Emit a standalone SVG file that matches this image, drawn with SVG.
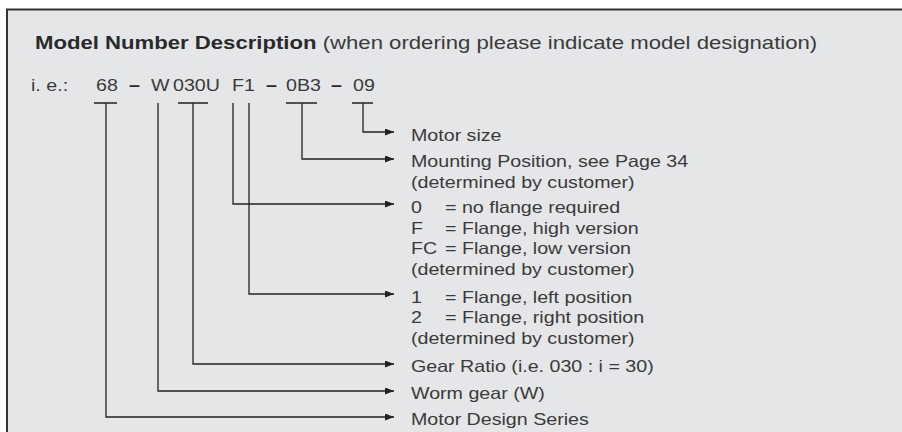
<svg xmlns="http://www.w3.org/2000/svg" width="902" height="432" viewBox="0 0 902 432">
<style>
.t{font-family:"Liberation Sans",Arial,Helvetica,sans-serif;font-size:16.5px;fill:#3a3a3a}
.h{font-family:"Liberation Sans",Arial,Helvetica,sans-serif;font-size:18.6px;fill:#3a3a3a}
.b{font-weight:bold;fill:#2a2a2a}
.d{font-weight:bold;fill:#2a2a2a}
.ln{fill:none;stroke:#222;stroke-width:1.3}
</style>
<defs>
<marker id="ah" markerUnits="userSpaceOnUse" markerWidth="10" markerHeight="8" refX="9" refY="3.5" orient="auto">
<path d="M0,0 L9,3.5 L0,7 z" fill="#222"/>
</marker>
</defs>
<rect x="0" y="0" width="902" height="432" fill="#fff"/>
<path d="M7,440 V9.5 H910" fill="#e5e6e8" stroke="none"/>
<rect x="7" y="9.5" width="900" height="430" fill="#e5e6e8"/>
<path d="M7,440 V9.5 H910" fill="none" stroke="#333" stroke-width="2"/>
<g id="title">
<text class="h" transform="translate(35,49) scale(1.19,1)"><tspan class="b">Model Number Description</tspan> (when ordering please indicate model designation)</text>
</g>
<g id="code">
<text class="t" transform="translate(31,91) scale(1.19,1)">i. e.:</text>
<text class="t" transform="translate(96,91) scale(1.19,1)">68</text>
<text class="t d" transform="translate(129,91) scale(1.19,1)">–</text>
<text class="t" transform="translate(151,91) scale(1.19,1)">W</text>
<text class="t" transform="translate(173,91) scale(1.19,1)">030U</text>
<text class="t" transform="translate(232,91) scale(1.19,1)">F1</text>
<text class="t d" transform="translate(266,91) scale(1.19,1)">–</text>
<text class="t" transform="translate(286,91) scale(1.19,1)">0B3</text>
<text class="t d" transform="translate(331,91) scale(1.19,1)">–</text>
<text class="t" transform="translate(353,91) scale(1.19,1)">09</text>
</g>
<g id="connectors">
<path class="ln" d="M352,103 H373 M363,103 V132 H394" marker-end="url(#ah)"/>
<path class="ln" d="M286,103 H317 M302,103 V159 H394" marker-end="url(#ah)"/>
<path class="ln" d="M233,103 V204 H394" marker-end="url(#ah)"/>
<path class="ln" d="M249,103 V294 H394" marker-end="url(#ah)"/>
<path class="ln" d="M178,103 H208 M193,103 V364 H394" marker-end="url(#ah)"/>
<path class="ln" d="M158,103 V391 H394" marker-end="url(#ah)"/>
<path class="ln" d="M94,103 H117 M106,103 V417 H394" marker-end="url(#ah)"/>
</g>
<g id="motor-size">
<text class="t" transform="translate(411,141) scale(1.19,1)">Motor size</text>
</g>
<g id="mounting">
<text class="t" transform="translate(411,167) scale(1.19,1)"><tspan x="0">Mounting Position, see Page 34</tspan><tspan x="0" dy="20.8">(determined by customer)</tspan></text>
</g>
<g id="flange">
<text class="t" transform="translate(411,213) scale(1.19,1)"><tspan x="0">0</tspan><tspan x="28.6">= no flange required</tspan><tspan x="0" dy="20.7">F</tspan><tspan x="28.6">= Flange, high version</tspan><tspan x="0" dy="20.7">FC</tspan><tspan x="28.6">= Flange, low version</tspan><tspan x="0" dy="20.7">(determined by customer)</tspan></text>
</g>
<g id="flange-position">
<text class="t" transform="translate(411,303) scale(1.19,1)"><tspan x="0">1</tspan><tspan x="28.6">= Flange, left position</tspan><tspan x="0" dy="20.5">2</tspan><tspan x="28.6">= Flange, right position</tspan><tspan x="0" dy="20.5">(determined by customer)</tspan></text>
</g>
<g id="gear-ratio">
<text class="t" transform="translate(411,372) scale(1.19,1)">Gear Ratio (i.e. 030 : i = 30)</text>
</g>
<g id="worm-gear">
<text class="t" transform="translate(411,399) scale(1.19,1)">Worm gear (W)</text>
</g>
<g id="design-series">
<text class="t" transform="translate(411,425) scale(1.19,1)">Motor Design Series</text>
</g>
</svg>
